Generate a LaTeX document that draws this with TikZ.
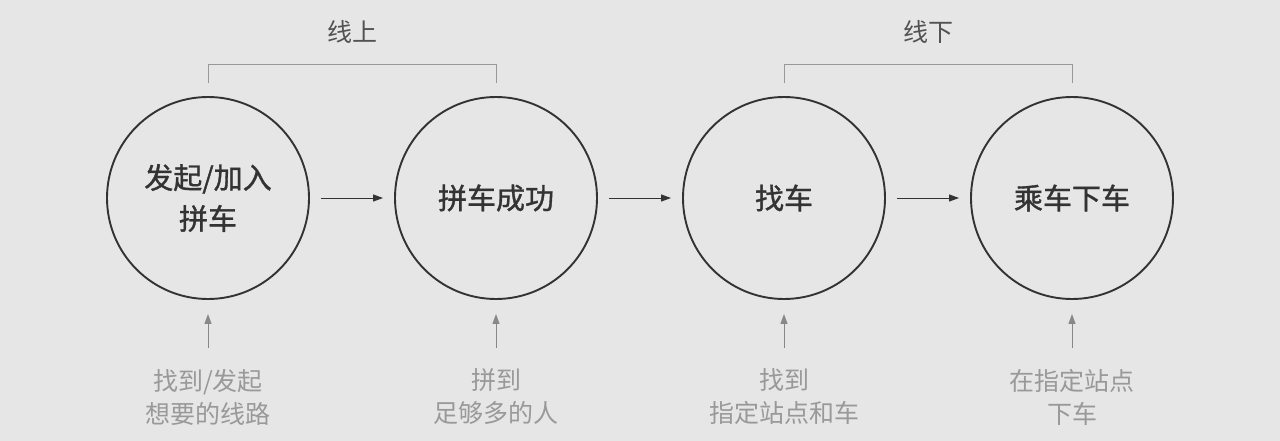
\documentclass[tikz,border=0pt]{standalone}
\usepackage{fontspec}
\newfontfamily\cjk{Noto Sans CJK SC}
\newfontfamily\cjkm[FakeBold=1.2]{Noto Sans CJK SC}
\usetikzlibrary{arrows.meta,calc}
\definecolor{bg}{HTML}{E6E6E6}
\definecolor{ink}{HTML}{333333}
\definecolor{soft}{HTML}{999999}
\definecolor{lineg}{HTML}{888888}
\tikzset{
  stage/.style={circle, draw=ink, line width=1.9pt, minimum size=202pt, inner sep=0pt,
    text=ink, align=center, font=\cjkm\fontsize{29}{41}\selectfont},
  note/.style={text=soft, align=center, inner sep=0pt, font=\cjk\fontsize{25}{33}\selectfont},
  toplabel/.style={text=ink!85, inner sep=0pt, font=\cjk\fontsize{25}{30}\selectfont},
  flow/.style={draw=ink, line width=1pt, -{Triangle[length=10pt,width=7pt]}, shorten <=11pt, shorten >=11pt},
  uparrow/.style={draw=lineg, line width=1pt, -{Triangle[length=10pt,width=7pt]}, shorten >=14pt},
  bracket/.style={draw=soft, line width=1pt}
}
\begin{document}
\begin{tikzpicture}[x=1pt,y=-1pt]
\fill[bg] (0,0) rectangle (1280,441);
\useasboundingbox (0,0) rectangle (1280,441);
\node[stage] (c1) at (208,198) {发起/加入\\拼车};
\node[stage] (c2) at (496,198) {拼车成功};
\node[stage] (c3) at (784,198) {找车};
\node[stage] (c4) at (1072,198) {乘车下车};
\draw[flow] (c1.east) -- (c2.west);
\draw[flow] (c2.east) -- (c3.west);
\draw[flow] (c3.east) -- (c4.west);
\node[note] (n1) at (208,397) {找到/发起\\想要的线路};
\node[note] (n2) at (496,397) {拼到\\足够多的人};
\node[note] (n3) at (784,397) {找到\\指定站点和车};
\node[note] (n4) at (1072,397) {在指定站点\\下车};
\coordinate (a1) at (208,348);
\coordinate (a2) at (496,348);
\coordinate (a3) at (784,348);
\coordinate (a4) at (1072,348);
\draw[uparrow] (a1) -- (c1.south);
\draw[uparrow] (a2) -- (c2.south);
\draw[uparrow] (a3) -- (c3.south);
\draw[uparrow] (a4) -- (c4.south);
\draw[bracket] ($(c1.north)+(0,-13)$) -- ($(c1.north)+(0,-32)$) -- ($(c2.north)+(0,-32)$) -- ($(c2.north)+(0,-13)$);
\draw[bracket] ($(c3.north)+(0,-13)$) -- ($(c3.north)+(0,-32)$) -- ($(c4.north)+(0,-32)$) -- ($(c4.north)+(0,-13)$);
\node[toplabel] (l1) at (352,32) {线上};
\node[toplabel] (l2) at (928,32) {线下};
\end{tikzpicture}
\end{document}
